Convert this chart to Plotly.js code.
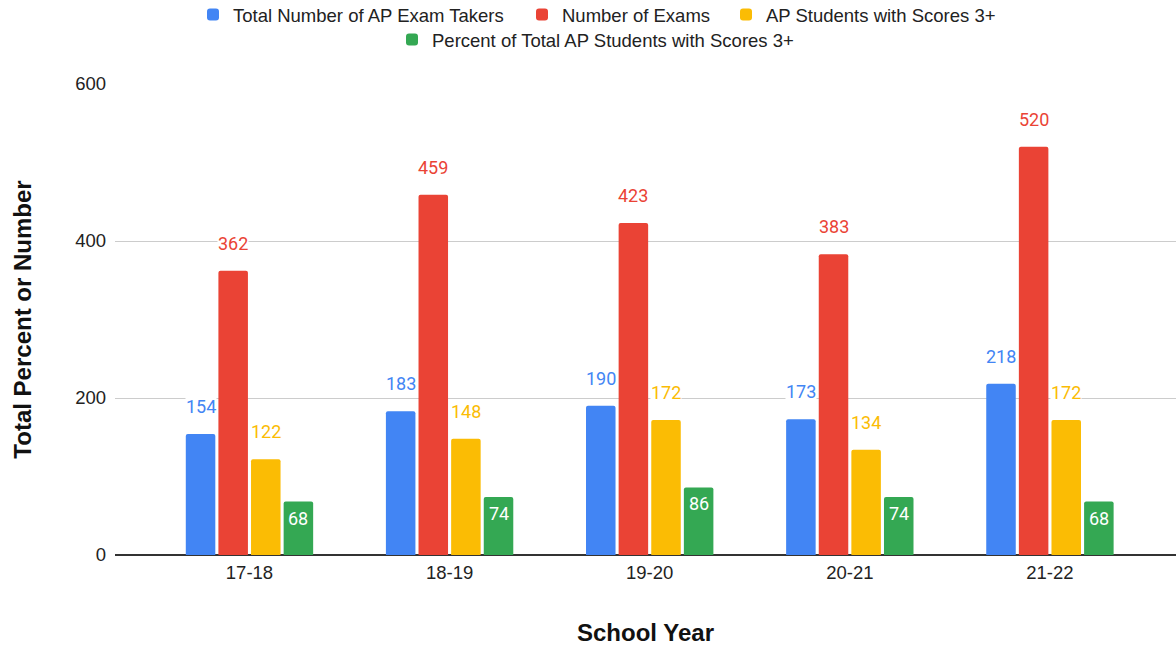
<!DOCTYPE html>
<html><head><meta charset="utf-8">
<script src="https://cdn.plot.ly/plotly-3.0.1.min.js"></script>
<style>html,body{margin:0;padding:0;background:#fff}#chart{width:1176px;height:646px}</style>
</head><body><div id="chart"></div>
<script>
const years = ['17-18','18-19','19-20','20-21','21-22'];
const examTakers = [154,183,190,173,218];
const numExams = [362,459,423,383,520];
const scores3 = [122,148,172,134,172];
const pct3 = [68,74,86,74,68];
const seriesNames = ['Total Number of AP Exam Takers','Number of Exams','AP Students with Scores 3+','Percent of Total AP Students with Scores 3+'];
const colors = ['#4285F4','#EA4335','#FBBC04','#34A853'];
const series = [examTakers,numExams,scores3,pct3];
const legendIds = ['legend','legend2','legend3','legend4'];
const BARGAP = 0.348, GROUPGAP = 0.095;

const traces = series.map((vals,i)=>({
  type:'bar', name:seriesNames[i], x:years, y:vals,
  marker:{color:colors[i], cornerradius:2},
  legend:legendIds[i], hoverinfo:'skip'
}));

const slot = (1-BARGAP)/series.length;
const annotations = [];
series.forEach((vals,i)=>{
  const off = (i-(series.length-1)/2)*slot;
  const inside = (i===3);
  vals.forEach((v,j)=>{
    annotations.push({
      x:j+off, y:v, xref:'x', yref:'y', text:String(v), showarrow:false,
      xanchor:'center', yanchor:'middle', yshift: inside ? -16.5 : 27.5,
      font:{family:'Roboto, sans-serif', size:18, color: inside ? '#ffffff' : colors[i]},
      bgcolor: inside ? 'rgba(0,0,0,0)' : '#ffffff', borderpad:0
    });
  });
});

function legendAt(xPx, yPx){
  return {orientation:'h', xref:'container', yref:'container', x:xPx/1176, xanchor:'left', y:1-yPx/646, yanchor:'middle',
    font:{size:18.5, color:'#222'}, bgcolor:'rgba(0,0,0,0)', borderwidth:0};
}

const layout = {
  width:1176, height:646,
  margin:{l:115, r:0, t:84, b:91},
  paper_bgcolor:'#ffffff', plot_bgcolor:'#ffffff',
  font:{family:'"Liberation Sans", Arial, sans-serif', size:18, color:'#222'},
  barmode:'group', bargap:BARGAP, bargroupgap:GROUPGAP,
  showlegend:true,
  xaxis:{
    type:'category', range:[-0.672, 4.63], showgrid:false, showline:false, zeroline:false,
    ticks:'', tickfont:{size:18.5, color:'#222'}, ticklabelstandoff:4,
    title:{text:'School Year', font:{size:24, weight:'bold', color:'#111'}, standoff:42}
  },
  yaxis:{
    range:[0,600], tick0:0, dtick:200, gridcolor:'#cccccc', gridwidth:1,
    zeroline:true, zerolinecolor:'#333333', zerolinewidth:1.5, showline:false,
    ticks:'', tickfont:{size:18.5, color:'#222'}, ticklabelstandoff:8,
    title:{text:'Total Percent or Number', font:{size:24, weight:'bold', color:'#111'}, standoff:36}
  },
  legend:legendAt(193, 15),
  legend2:legendAt(522, 15),
  legend3:legendAt(726, 15),
  legend4:legendAt(392, 40),
  annotations:annotations
};
Plotly.newPlot('chart', traces, layout, {displayModeBar:false, staticPlot:true});
</script>
</body></html>
